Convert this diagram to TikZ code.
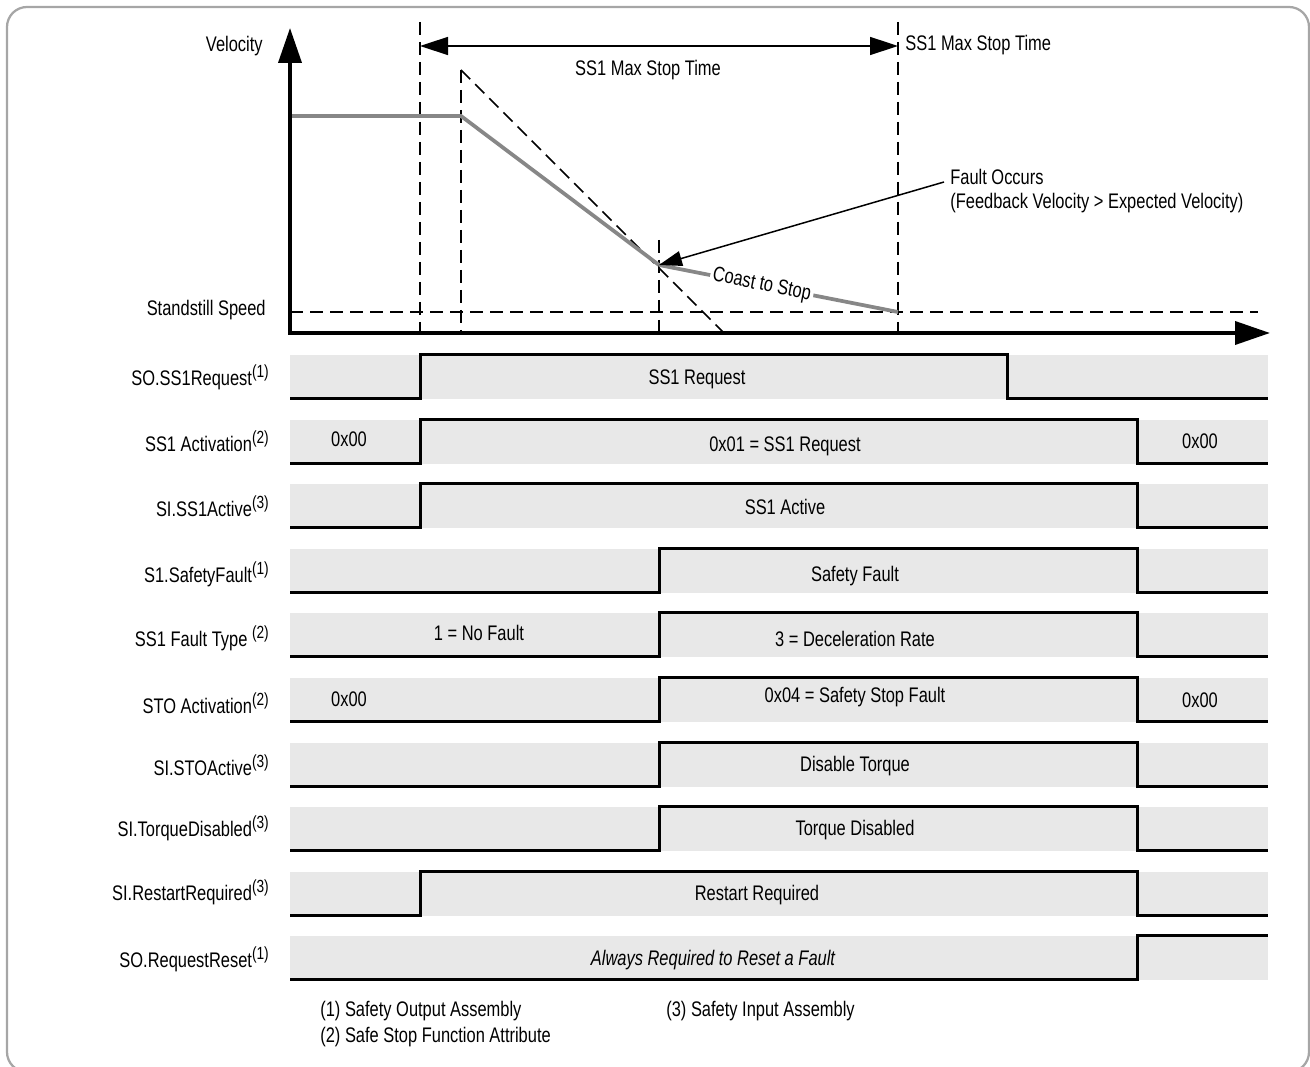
\documentclass[tikz,border=0pt]{standalone}
\usepackage{fontspec}
\setmainfont{Liberation Sans}[FakeStretch=0.78]
\usepackage{tikz}
\usetikzlibrary{arrows.meta}
\newcommand{\asmref}[1]{\textsuperscript{\fontsize{10}{10}\selectfont(#1)}}

\begin{document}
\begin{tikzpicture}[x=0.2mm,y=-0.2mm,font=\fontsize{12}{13.6}\selectfont]
            \tikzstyle{frame}=[draw=black!35, line width=0.45mm, rounded corners=4mm]
            \tikzstyle{band}=[fill=black!9, draw=none]
            \tikzstyle{wave}=[line width=0.6mm, line join=miter]
            \tikzstyle{axis}=[line width=0.75mm, line join=miter, {Triangle[length=7mm,width=4.6mm]}-{Triangle[length=7mm,width=4.6mm]}]
            \tikzstyle{guide}=[line width=0.34mm, dash pattern=on 2.6mm off 1.4mm]
            \tikzstyle{profile}=[line width=0.75mm, draw=black!47]
            \tikzstyle{dimline}=[line width=0.3mm, {Triangle[length=5.6mm,width=3.6mm]}-{Triangle[length=5.6mm,width=3.6mm]}]
            \tikzstyle{pointer}=[line width=0.3mm, -{Triangle[length=4.6mm,width=3mm]}]
            \tikzstyle{signame}=[anchor=east, inner sep=0pt]
            \tikzstyle{sigtext}=[inner sep=0pt]
            \tikzstyle{note}=[anchor=base west, inner sep=0pt]

            \useasboundingbox (0,0) rectangle (1310,1067);
            \begin{scope}
            \clip (0,0) rectangle (1310,1067);
            \draw[frame] (7,7) rectangle (1309,1072);
            \end{scope}

            % velocity plot
            \coordinate (O) at (290,333);
            \coordinate (ytop) at (290,28);
            \coordinate (xend) at (1270,333);
            \coordinate (req) at (420,46);
            \coordinate (limit) at (898,46);
            \coordinate (knee) at (659,265);
            \coordinate (stop) at (898,312);
            \coordinate (fstart) at (944,182);

            \draw[guide] (420,22) -- (420,333);
            \draw[guide] (461,70) -- (461,333);
            \draw[guide] (659,240) -- (659,333);
            \draw[guide] (898,22) -- (898,333);
            \draw[guide] (290,312) -- (1258,312);
            \draw[guide] (461,70) -- (724,333);

            \draw[profile] (290,116) -- (461,116) -- (knee);
            \draw[profile] (knee) -- node[sloped, fill=white, inner sep=1.5pt, pos=0.43] (coast) {Coast to Stop} (stop);
            \draw[axis] (ytop) -- (O) -- (xend);

            \node[anchor=east, inner sep=0pt] (vel) at (263,46) {Velocity};
            \node[anchor=east, inner sep=0pt] (still) at (266,310) {Standstill Speed};
            \draw[dimline] (req) -- (limit);
            \node[inner sep=0pt] (maxmid) at (648,70) {SS1 Max Stop Time};
            \node[anchor=west, inner sep=0pt] (maxlbl) at (905,45) {SS1 Max Stop Time};
            \node[note] (fault) at (950,185) {Fault Occurs};
            \node[note] (cause) at (950,209) {(Feedback Velocity > Expected Velocity)};
            \draw[pointer] (fstart) -- (knee);

            % SO.SS1Request
            \fill[band] (290,355) rectangle (1268,399);
            \draw[wave] (290,399) -- (420,399) -- (420,355) -- (1007,355) -- (1007,399) -- (1268,399);
            \node[signame] (S1) at (270,377) {SO.SS1Request\asmref{1}};
            \node[sigtext] (S1a) at (697,379) {SS1 Request};

            % SS1 Activation
            \fill[band] (290,420) rectangle (1268,464);
            \draw[wave] (290,464) -- (420,464) -- (420,420) -- (1137,420) -- (1137,464) -- (1268,464);
            \node[signame] (S2) at (270,441) {SS1 Activation\asmref{2}};
            \node[sigtext] (S2a) at (349,439) {0x00};
            \node[sigtext] (S2b) at (785,446) {0x01 = SS1 Request};
            \node[sigtext] (S2c) at (1200,441) {0x00};

            % SI.SS1Active
            \fill[band] (290,484) rectangle (1268,528);
            \draw[wave] (290,528) -- (420,528) -- (420,484) -- (1137,484) -- (1137,528) -- (1268,528);
            \node[signame] (S3) at (270,506) {SI.SS1Active\asmref{3}};
            \node[sigtext] (S3a) at (785,507) {SS1 Active};

            % S1.SafetyFault
            \fill[band] (290,549) rectangle (1268,593);
            \draw[wave] (290,593) -- (659,593) -- (659,549) -- (1137,549) -- (1137,593) -- (1268,593);
            \node[signame] (S4) at (270,574) {S1.SafetyFault\asmref{1}};
            \node[sigtext] (S4a) at (855,576) {Safety Fault};

            % SS1 Fault Type
            \fill[band] (290,613) rectangle (1268,657);
            \draw[wave] (290,657) -- (659,657) -- (659,613) -- (1137,613) -- (1137,657) -- (1268,657);
            \node[signame] (S5) at (270,638) {SS1 Fault Type \asmref{2}};
            \node[sigtext] (S5a) at (479,633) {1 = No Fault};
            \node[sigtext] (S5b) at (855,639) {3 = Deceleration Rate};

            % STO Activation
            \fill[band] (290,678) rectangle (1268,722);
            \draw[wave] (290,722) -- (659,722) -- (659,678) -- (1137,678) -- (1137,722) -- (1268,722);
            \node[signame] (S6) at (270,703) {STO Activation\asmref{2}};
            \node[sigtext] (S6a) at (349,699) {0x00};
            \node[sigtext] (S6b) at (855,697) {0x04 = Safety Stop Fault};
            \node[sigtext] (S6c) at (1200,700) {0x00};

            % SI.STOActive
            \fill[band] (290,743) rectangle (1268,787);
            \draw[wave] (290,787) -- (659,787) -- (659,743) -- (1137,743) -- (1137,787) -- (1268,787);
            \node[signame] (S7) at (270,765) {SI.STOActive\asmref{3}};
            \node[sigtext] (S7a) at (855,766) {Disable Torque};

            % SI.TorqueDisabled
            \fill[band] (290,807) rectangle (1268,851);
            \draw[wave] (290,851) -- (659,851) -- (659,807) -- (1137,807) -- (1137,851) -- (1268,851);
            \node[signame] (S8) at (270,828) {SI.TorqueDisabled\asmref{3}};
            \node[sigtext] (S8a) at (855,830) {Torque Disabled};

            % SI.RestartRequired
            \fill[band] (290,872) rectangle (1268,916);
            \draw[wave] (290,916) -- (420,916) -- (420,872) -- (1137,872) -- (1137,916) -- (1268,916);
            \node[signame] (S9) at (270,892) {SI.RestartRequired\asmref{3}};
            \node[sigtext] (S9a) at (757,895) {Restart Required};

            % SO.RequestReset
            \fill[band] (290,936) rectangle (1268,980);
            \draw[wave] (290,980) -- (1137,980) -- (1137,936) -- (1268,936);
            \node[signame] (S10) at (270,959) {SO.RequestReset\asmref{1}};
            \node[sigtext] (S10a) at (713,960) {\itshape Always Required to Reset a Fault};

            % notes
            \node[note] (n1) at (320,1017) {(1) Safety Output Assembly};
            \node[note] (n2) at (320,1043) {(2) Safe Stop Function Attribute};
            \node[note] (n3) at (666,1017) {(3) Safety Input Assembly};

        \end{tikzpicture}
\end{document}
